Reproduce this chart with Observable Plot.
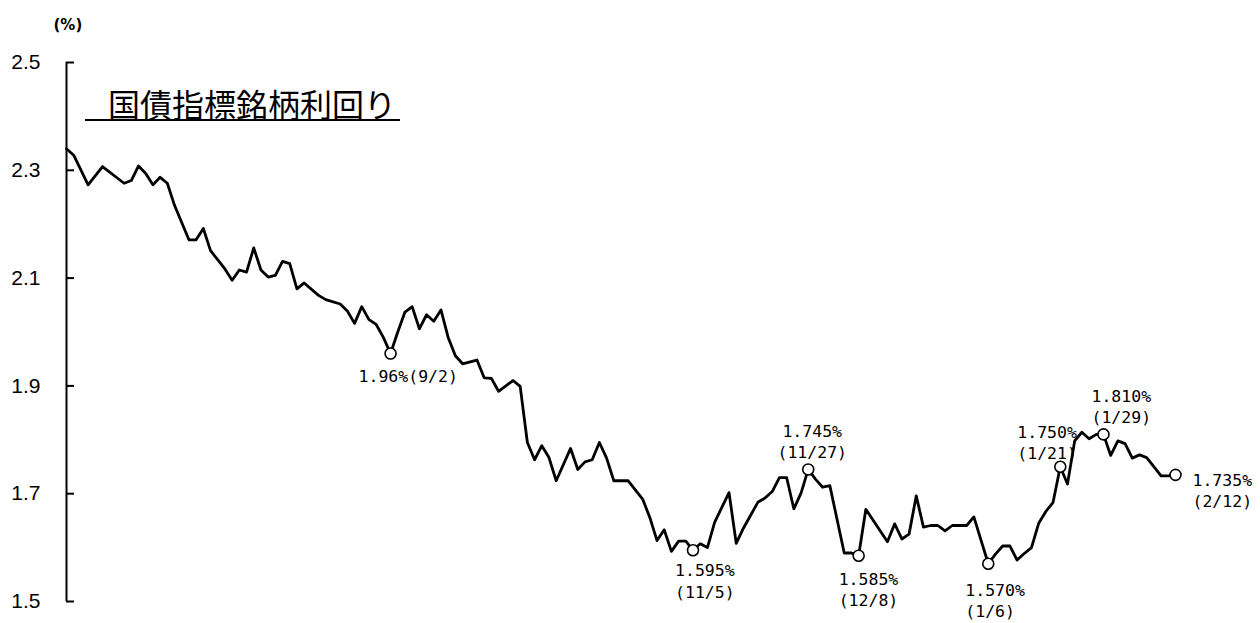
<!DOCTYPE html>
<html><head><meta charset="utf-8">
<script src="https://cdn.jsdelivr.net/npm/d3@7"></script>
<script src="https://cdn.jsdelivr.net/npm/@observablehq/plot@0.6"></script>
<style>
html,body{margin:0;padding:0;background:#fff;}
#wrap{position:relative;width:1260px;height:623px;overflow:hidden;}
#title{position:absolute;left:85px;top:87px;padding-left:23px;padding-right:4px;font-family:"Noto Sans CJK JP",sans-serif;font-size:32px;line-height:32px;border-bottom:2px solid #000;color:#000;white-space:nowrap;}
</style></head><body>
<div id="wrap"><div id="title"></div></div>
<script>
// ---- data ----
const titleText = "国債指標銘柄利回り";
const yUnit = "(%)";
const yTicks = [1.5, 1.7, 1.9, 2.1, 2.3, 2.5];
// trading-day number since start of the period
const tday = [0,1,3,5,8,9,10,11,12,13,14,15,17,18,19,20,22,23,24,25,26,27,28,29,30,31,32,33,35,36,38,39,40,41,42,43,44,45,46,47,48,49,50,51,52,53,54,55,57,58,59,60,62,63,64,65,66,67,68,70,71,72,73,74,75,76,78,80,81,82,83,84,85,86,87,88,89,90,92,93,94,96,97,98,99,100,101,102,103,104,105,106,108,109,110,111,114,115,116,117,118,119,120,121,122,123,125,126,128,129,130,131,132,133,134,135,136,137,138,139,140,141,142,143,144,145,146,147,148,149,150,152,153,154];
// yield (%)
const yieldPct = [2.340,2.328,2.273,2.307,2.276,2.281,2.308,2.294,2.273,2.287,2.276,2.235,2.171,2.171,2.192,2.151,2.117,2.096,2.115,2.111,2.156,2.115,2.102,2.105,2.131,2.127,2.080,2.091,2.068,2.060,2.052,2.039,2.016,2.047,2.023,2.014,1.990,1.960,2.000,2.037,2.047,2.006,2.032,2.020,2.041,1.990,1.956,1.941,1.948,1.915,1.914,1.890,1.910,1.899,1.795,1.763,1.789,1.767,1.724,1.784,1.745,1.759,1.763,1.795,1.766,1.724,1.724,1.690,1.656,1.613,1.633,1.593,1.612,1.612,1.595,1.607,1.600,1.647,1.702,1.608,1.636,1.684,1.692,1.704,1.730,1.730,1.672,1.701,1.745,1.727,1.712,1.715,1.590,1.590,1.585,1.671,1.611,1.644,1.616,1.625,1.696,1.638,1.641,1.641,1.631,1.641,1.641,1.657,1.570,1.588,1.603,1.603,1.577,1.589,1.600,1.645,1.667,1.684,1.750,1.718,1.798,1.814,1.802,1.810,1.810,1.771,1.798,1.793,1.766,1.772,1.767,1.733,1.733,1.735];
// annotated points
const annDay = [45, 87, 103, 110, 128, 138, 144, 154];
const annValue = [1.96, 1.595, 1.745, 1.585, 1.570, 1.750, 1.810, 1.735];
const annValueText = ["1.96%", "1.595%", "1.745%", "1.585%", "1.570%", "1.750%", "1.810%", "1.735%"];
const annDate = ["9/2", "11/5", "11/27", "12/8", "1/6", "1/21", "1/29", "2/12"];

// ---- layout (label placement relative to the marker, px) ----
const annLayout = [
  {dx: -32, dy: 22, anchor: "start", sep: ""},
  {dx: -18, dy: 30, anchor: "start", sep: "\n"},
  {dx: 4, dy: -29, anchor: "middle", sep: "\n"},
  {dx: -20, dy: 33, anchor: "start", sep: "\n"},
  {dx: -23, dy: 36, anchor: "start", sep: "\n"},
  {dx: -43, dy: -25, anchor: "start", sep: "\n"},
  {dx: -12, dy: -29, anchor: "start", sep: "\n"},
  {dx: 17, dy: 15, anchor: "start", sep: "\n"}
];

document.getElementById("title").textContent = titleText;

const series = tday.map((t, i) => ({t, v: yieldPct[i]}));
const ann = annDay.map((t, i) => ({t, v: annValue[i], label: annValueText[i] + annLayout[i].sep + "(" + annDate[i] + ")"}));
const xDomain = [tday[0], tday[tday.length - 1]];
const yDomain = d3.extent(yTicks);

const labelMarks = ann.map((d, i) => Plot.text([d], {
  x: "t", y: "v", text: "label",
  dx: annLayout[i].dx, dy: annLayout[i].dy,
  textAnchor: annLayout[i].anchor, lineAnchor: "middle", lineHeight: 1.3,
  fontFamily: "DejaVu Sans Mono", fontSize: 16.5, fill: "black"
}));

const chart = Plot.plot({
  width: 1260, height: 623,
  marginLeft: 66, marginRight: 85, marginTop: 62, marginBottom: 22,
  x: {domain: xDomain, axis: null},
  y: {domain: yDomain},
  style: {fontFamily: "Liberation Sans, Arial, sans-serif", background: "white", color: "black"},
  marks: [
    Plot.ruleX([xDomain[0]], {y1: yDomain[0], y2: yDomain[1], stroke: "black", strokeWidth: 2}),
    Plot.axisY({ticks: yTicks, tickSize: -8, tickPadding: 34, tickFormat: d3.format(".1f"), fontSize: 21, label: null, strokeWidth: 2}),
    Plot.line(series, {x: "t", y: "v", stroke: "black", strokeWidth: 2.8}),
    Plot.dot(ann, {x: "t", y: "v", r: 5.5, fill: "white", stroke: "black", strokeWidth: 1.6}),
    ...labelMarks,
    Plot.text([yUnit], {frameAnchor: "top-left", dx: -13, dy: -43, fontSize: 15, fontWeight: "bold", fontFamily: "DejaVu Sans"})
  ]
});
document.getElementById("wrap").prepend(chart);
</script>
</body></html>
